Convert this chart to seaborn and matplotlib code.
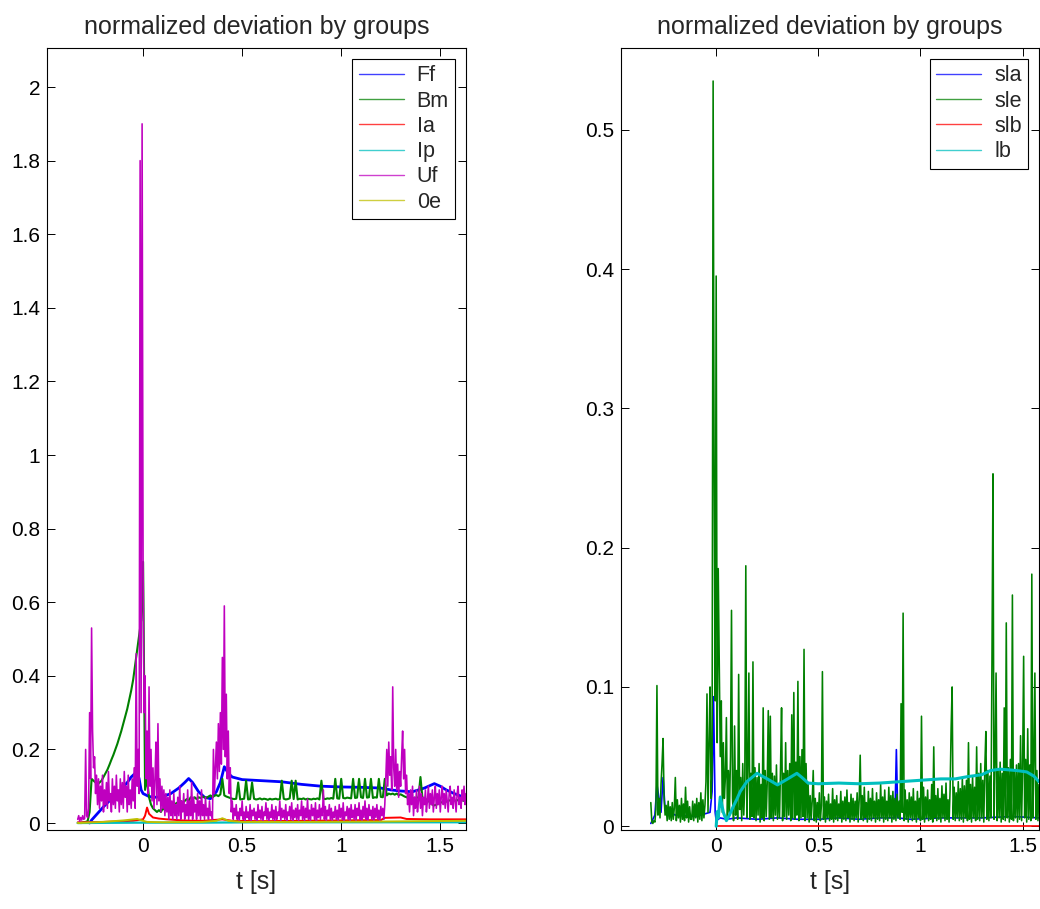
import numpy as np
import matplotlib
matplotlib.use("Agg")
import matplotlib.pyplot as plt
from matplotlib.lines import Line2D
from matplotlib.ticker import FuncFormatter, MultipleLocator
import seaborn as sns

# ---------------------------------------------------------------- data
# Uf: sampled every 5 ms from -0.33 s to 1.63 s (20 samples per row)
t_uf = np.linspace(-0.33, 1.63, 393)
uf = [
    0.01, 0.02, 0.005, 0.015, 0.008, 0.02, 0.01, 0.012, 0.20, 0.02,
    0.015, 0.04, 0.30, 0.12, 0.53, 0.25, 0.15, 0.18, 0.08, 0.13,
    0.05, 0.12, 0.04, 0.10, 0.06, 0.13, 0.03, 0.09, 0.05, 0.11,
    0.04, 0.14, 0.06, 0.08, 0.03, 0.12, 0.05, 0.10, 0.04, 0.13,
    0.06, 0.09, 0.03, 0.12, 0.05, 0.11, 0.04, 0.14, 0.07, 0.10,
    0.03, 0.13, 0.05, 0.09, 0.04, 0.12, 0.06, 0.15, 0.04, 0.46,
    0.10, 0.20, 0.08, 1.80, 0.30, 1.90, 0.70, 0.30, 0.40, 0.12,
    0.25, 0.08, 0.37, 0.10, 0.20, 0.06, 0.15, 0.04, 0.12, 0.22,
    0.05, 0.27, 0.06, 0.12, 0.03, 0.10, 0.04, 0.09, 0.02, 0.08,
    0.03, 0.07, 0.01, 0.09, 0.02, 0.06, 0.01, 0.08, 0.02, 0.05,
    0.01, 0.07, 0.02, 0.10, 0.01, 0.06, 0.03, 0.08, 0.01, 0.05,
    0.02, 0.09, 0.01, 0.06, 0.02, 0.11, 0.01, 0.07, 0.03, 0.05,
    0.01, 0.08, 0.02, 0.06, 0.01, 0.09, 0.02, 0.05, 0.01, 0.07,
    0.02, 0.04, 0.01, 0.06, 0.02, 0.03, 0.01, 0.20, 0.08, 0.15,
    0.22, 0.12, 0.27, 0.14, 0.30, 0.16, 0.45, 0.20, 0.59, 0.18,
    0.35, 0.12, 0.25, 0.08, 0.15, 0.03, 0.06, 0.01, 0.04, 0.02,
    0.05, 0.01, 0.03, 0.005, 0.04, 0.02, 0.06, 0.01, 0.03, 0.005,
    0.045, 0.015, 0.03, 0.01, 0.05, 0.005, 0.035, 0.02, 0.04, 0.01,
    0.03, 0.005, 0.05, 0.015, 0.035, 0.01, 0.045, 0.005, 0.03, 0.02,
    0.055, 0.01, 0.04, 0.005, 0.03, 0.015, 0.05, 0.01, 0.035, 0.005,
    0.045, 0.01, 0.03, 0.02, 0.06, 0.005, 0.04, 0.015, 0.035, 0.01,
    0.05, 0.005, 0.03, 0.02, 0.045, 0.01, 0.055, 0.005, 0.035, 0.015,
    0.04, 0.01, 0.05, 0.005, 0.035, 0.02, 0.06, 0.01, 0.045, 0.005,
    0.04, 0.015, 0.065, 0.01, 0.035, 0.005, 0.05, 0.02, 0.04, 0.01,
    0.055, 0.005, 0.035, 0.015, 0.05, 0.01, 0.04, 0.02, 0.09, 0.01,
    0.045, 0.005, 0.035, 0.02, 0.05, 0.01, 0.04, 0.005, 0.03, 0.015,
    0.045, 0.01, 0.035, 0.005, 0.05, 0.015, 0.04, 0.01, 0.055, 0.005,
    0.03, 0.02, 0.045, 0.01, 0.04, 0.005, 0.05, 0.015, 0.035, 0.01,
    0.05, 0.005, 0.04, 0.02, 0.055, 0.01, 0.035, 0.005, 0.045, 0.015,
    0.06, 0.01, 0.04, 0.005, 0.05, 0.02, 0.035, 0.01, 0.045, 0.005,
    0.04, 0.015, 0.05, 0.01, 0.035, 0.005, 0.045, 0.02, 0.04, 0.01,
    0.05, 0.12, 0.20, 0.10, 0.22, 0.13, 0.18, 0.09, 0.37, 0.15,
    0.10, 0.20, 0.09, 0.16, 0.07, 0.14, 0.10, 0.18, 0.25, 0.12,
    0.20, 0.08, 0.13, 0.05, 0.08, 0.03, 0.09, 0.05, 0.10, 0.02,
    0.07, 0.04, 0.09, 0.03, 0.06, 0.10, 0.04, 0.08, 0.02, 0.07,
    0.05, 0.09, 0.03, 0.06, 0.10, 0.04, 0.08, 0.05, 0.09, 0.03,
    0.07, 0.10, 0.04, 0.08, 0.05, 0.09, 0.03, 0.07, 0.10, 0.05,
    0.08, 0.04, 0.09, 0.06, 0.03, 0.08, 0.10, 0.05, 0.07, 0.04,
    0.09, 0.06, 0.03, 0.08, 0.10, 0.05, 0.07, 0.04, 0.09, 0.06,
    0.10, 0.05, 0.08,
]

# Bm: sampled every 10 ms from -0.33 s to 1.63 s
t_bm = np.linspace(-0.33, 1.63, 197)
bm = [
    0.0, 0.0, 0.0, 0.002, 0.003, 0.005, 0.03, 0.12, 0.115, 0.11,
    0.105, 0.11, 0.115, 0.125, 0.135, 0.145, 0.158, 0.172, 0.185, 0.20,
    0.215, 0.232, 0.25, 0.27, 0.29, 0.31, 0.335, 0.36, 0.39, 0.43,
    0.47, 0.51, 0.55, 0.71, 0.09, 0.12, 0.07, 0.05, 0.04, 0.035,
    0.03, 0.035, 0.03, 0.04, 0.035, 0.04, 0.045, 0.04, 0.05, 0.05,
    0.055, 0.05, 0.06, 0.055, 0.06, 0.065, 0.06, 0.07, 0.065, 0.07,
    0.065, 0.07, 0.068, 0.072, 0.07, 0.068, 0.072, 0.075, 0.07, 0.074,
    0.076, 0.073, 0.078, 0.12, 0.075, 0.072, 0.07, 0.068, 0.066, 0.065,
    0.066, 0.11, 0.064, 0.065, 0.066, 0.115, 0.064, 0.065, 0.11, 0.066,
    0.064, 0.065, 0.067, 0.064, 0.066, 0.065, 0.063, 0.066, 0.064, 0.065,
    0.066, 0.064, 0.065, 0.115, 0.066, 0.064, 0.065, 0.067, 0.115, 0.065,
    0.115, 0.064, 0.066, 0.065, 0.067, 0.064, 0.066, 0.065, 0.064, 0.066,
    0.065, 0.067, 0.064, 0.115, 0.066, 0.065, 0.067, 0.066, 0.068, 0.066,
    0.12, 0.067, 0.066, 0.12, 0.068, 0.067, 0.069, 0.068, 0.067, 0.12,
    0.068, 0.069, 0.12, 0.07, 0.068, 0.12, 0.069, 0.07, 0.12, 0.068,
    0.07, 0.069, 0.12, 0.071, 0.07, 0.12, 0.075, 0.08, 0.078, 0.08,
    0.077, 0.08, 0.076, 0.078, 0.075, 0.072, 0.07, 0.068, 0.07, 0.067,
    0.069, 0.068, 0.07, 0.125, 0.068, 0.066, 0.064, 0.06, 0.055, 0.05,
    0.048, 0.05, 0.052, 0.055, 0.057, 0.06, 0.058, 0.06, 0.062, 0.06,
    0.062, 0.06, 0.063, 0.061, 0.062, 0.06, 0.061,
]

ff_t = [-0.27, -0.26, -0.24, -0.22, -0.20, -0.18, -0.15, -0.12, -0.10, -0.08,
        -0.06, -0.04, -0.03, -0.02, -0.01, 0.0, 0.03, 0.06, 0.10, 0.14,
        0.18, 0.21, 0.23, 0.25, 0.28, 0.31, 0.34, 0.37, 0.39, 0.41,
        0.43, 0.45, 0.50, 0.60, 0.70, 0.80, 0.90, 1.00, 1.10, 1.20,
        1.25, 1.30, 1.36, 1.42, 1.47, 1.50, 1.53, 1.57, 1.60, 1.63]
ff = [0.0, 0.008, 0.02, 0.032, 0.044, 0.055, 0.07, 0.085, 0.098, 0.11,
      0.125, 0.135, 0.14, 0.12, 0.09, 0.08, 0.072, 0.07, 0.072, 0.08,
      0.095, 0.11, 0.121, 0.11, 0.085, 0.07, 0.066, 0.085, 0.11, 0.153,
      0.135, 0.125, 0.118, 0.115, 0.112, 0.105, 0.10, 0.098, 0.097, 0.095,
      0.09, 0.087, 0.085, 0.095, 0.107, 0.10, 0.09, 0.08, 0.074, 0.071]

ia_t = [-0.33, -0.2, -0.05, 0.0, 0.01, 0.02, 0.03, 0.05, 0.08, 0.12,
        0.2, 0.3, 0.4, 0.45, 0.6, 0.8, 1.0, 1.2, 1.22, 1.3,
        1.33, 1.45, 1.63]
ia = [0.002, 0.003, 0.006, 0.01, 0.02, 0.042, 0.025, 0.015, 0.012, 0.01,
      0.007, 0.006, 0.01, 0.006, 0.005, 0.006, 0.007, 0.008, 0.014, 0.015,
      0.011, 0.01, 0.01]

ip_t = [-0.33, 0.0, 0.3, 0.6, 1.0, 1.3, 1.63]
ip = [0.0, 0.001, 0.001, 0.002, 0.002, 0.002, 0.002]

oe_t = [-0.33, -0.2, -0.1, -0.03, 0.0, 0.02, 0.1, 0.3, 0.37, 0.40,
        0.43, 0.5, 0.8, 1.2, 1.4, 1.63]
oe = [0.0, 0.003, 0.007, 0.011, 0.006, 0.003, 0.002, 0.003, 0.006, 0.013,
      0.006, 0.003, 0.003, 0.004, 0.005, 0.006]

# sle: sampled every 5 ms from -0.32 s to 1.58 s (20 samples per row)
t_sle = np.linspace(-0.32, 1.58, 381)
sle = [
    0.017, 0.003, 0.002, 0.004, 0.003, 0.012, 0.101, 0.008, 0.02, 0.006,
    0.03, 0.045, 0.063, 0.02, 0.008, 0.015, 0.004, 0.018, 0.005, 0.014,
    0.004, 0.017, 0.005, 0.013, 0.035, 0.004, 0.019, 0.006, 0.015, 0.003,
    0.02, 0.005, 0.016, 0.004, 0.028, 0.006, 0.018, 0.003, 0.014, 0.005,
    0.005, 0.018, 0.004, 0.016, 0.006, 0.02, 0.003, 0.017, 0.005, 0.024,
    0.004, 0.019, 0.006, 0.015, 0.032, 0.095, 0.01, 0.06, 0.10, 0.02,
    0.04, 0.535, 0.25, 0.09, 0.395, 0.06, 0.185, 0.12, 0.05, 0.09,
    0.01, 0.06, 0.02, 0.035, 0.078, 0.006, 0.04, 0.01, 0.05, 0.155,
    0.02, 0.004, 0.072, 0.008, 0.04, 0.005, 0.109, 0.012, 0.035, 0.004,
    0.045, 0.008, 0.03, 0.187, 0.006, 0.04, 0.11, 0.005, 0.038, 0.007,
    0.118, 0.006, 0.042, 0.004, 0.035, 0.008, 0.045, 0.003, 0.03, 0.006,
    0.085, 0.004, 0.04, 0.007, 0.032, 0.083, 0.005, 0.079, 0.006, 0.038,
    0.004, 0.036, 0.008, 0.044, 0.005, 0.03, 0.006, 0.042, 0.085, 0.004,
    0.038, 0.007, 0.06, 0.005, 0.04, 0.008, 0.045, 0.004, 0.08, 0.006,
    0.096, 0.005, 0.046, 0.008, 0.104, 0.004, 0.05, 0.006, 0.055, 0.007,
    0.127, 0.004, 0.045, 0.006, 0.03, 0.003, 0.022, 0.005, 0.018, 0.04,
    0.004, 0.02, 0.003, 0.017, 0.006, 0.024, 0.004, 0.015, 0.111, 0.005,
    0.021, 0.003, 0.018, 0.006, 0.023, 0.004, 0.016, 0.005, 0.027, 0.003,
    0.019, 0.005, 0.022, 0.004, 0.016, 0.006, 0.025, 0.003, 0.018, 0.005,
    0.021, 0.004, 0.026, 0.006, 0.017, 0.003, 0.023, 0.005, 0.02, 0.004,
    0.018, 0.006, 0.024, 0.003, 0.019, 0.051, 0.005, 0.022, 0.004, 0.028,
    0.006, 0.017, 0.003, 0.025, 0.005, 0.02, 0.004, 0.027, 0.006, 0.018,
    0.003, 0.024, 0.005, 0.019, 0.004, 0.03, 0.006, 0.021, 0.003, 0.026,
    0.005, 0.018, 0.004, 0.028, 0.006, 0.022, 0.003, 0.025, 0.005, 0.02,
    0.004, 0.023, 0.006, 0.018, 0.005, 0.088, 0.01, 0.153, 0.004, 0.026,
    0.005, 0.019, 0.003, 0.024, 0.006, 0.021, 0.004, 0.027, 0.005, 0.018,
    0.003, 0.025, 0.006, 0.02, 0.004, 0.079, 0.005, 0.028, 0.003, 0.021,
    0.006, 0.026, 0.004, 0.019, 0.005, 0.03, 0.003, 0.057, 0.006, 0.022,
    0.004, 0.027, 0.005, 0.02, 0.003, 0.029, 0.006, 0.023, 0.004, 0.031,
    0.005, 0.019, 0.003, 0.026, 0.07, 0.10, 0.005, 0.028, 0.004, 0.024,
    0.006, 0.032, 0.004, 0.027, 0.005, 0.035, 0.003, 0.029, 0.006, 0.033,
    0.004, 0.06, 0.005, 0.03, 0.003, 0.036, 0.006, 0.028, 0.004, 0.057,
    0.005, 0.038, 0.004, 0.045, 0.006, 0.033, 0.003, 0.042, 0.068, 0.005,
    0.04, 0.004, 0.036, 0.006, 0.12, 0.253, 0.005, 0.044, 0.11, 0.004,
    0.04, 0.006, 0.046, 0.003, 0.038, 0.005, 0.085, 0.004, 0.146, 0.006,
    0.042, 0.003, 0.048, 0.005, 0.166, 0.004, 0.04, 0.006, 0.044, 0.003,
    0.045, 0.005, 0.065, 0.004, 0.042, 0.122, 0.006, 0.048, 0.003, 0.07,
    0.005, 0.044, 0.004, 0.181, 0.006, 0.046, 0.11, 0.005, 0.04, 0.004,
    0.03,
]

sla_t = [-0.32, -0.31, -0.30, -0.29, -0.27, -0.26, -0.25, -0.2, -0.1, -0.03,
         -0.02, -0.013, -0.005, 0.0, 0.02, 0.05, 0.1, 0.2, 0.3, 0.4,
         0.5, 0.6, 0.7, 0.8, 0.875, 0.882, 0.889, 0.95, 1.1, 1.3,
         1.45, 1.58]
sla = [0.002, 0.005, 0.008, 0.03, 0.01, 0.035, 0.012, 0.008, 0.007, 0.01,
       0.025, 0.093, 0.01, 0.004, 0.006, 0.005, 0.006, 0.005, 0.006, 0.005,
       0.005, 0.006, 0.005, 0.006, 0.006, 0.055, 0.006, 0.005, 0.006, 0.006,
       0.007, 0.006]

slb_t = [0.0, 0.5, 1.0, 1.58]
slb = [0.0004, 0.0004, 0.0004, 0.0004]

lb_t = [0.0, 0.005, 0.01, 0.02, 0.035, 0.05, 0.065, 0.083, 0.1, 0.118,
        0.15, 0.175, 0.2, 0.225, 0.25, 0.3, 0.35, 0.395, 0.42, 0.45,
        0.5, 0.6, 0.7, 0.8, 0.9, 1.0, 1.1, 1.17, 1.23, 1.3,
        1.343, 1.39, 1.47, 1.52, 1.555, 1.58]
lb = [0.0, 0.0105, 0.006, 0.021, 0.01, 0.004, 0.008, 0.014, 0.019, 0.025,
      0.032, 0.035, 0.038, 0.036, 0.034, 0.0297, 0.034, 0.038, 0.035, 0.031,
      0.0305, 0.031, 0.0305, 0.031, 0.032, 0.033, 0.034, 0.034, 0.0356, 0.037,
      0.040, 0.041, 0.040, 0.039, 0.036, 0.032]

# ---------------------------------------------------------------- style
BLUE = (0.0, 0.0, 1.0)
GREEN = (0.0, 0.5, 0.0)
RED = (1.0, 0.0, 0.0)
CYAN = (0.0, 0.75, 0.75)
MAGENTA = (0.75, 0.0, 0.75)
YELLOW = (0.75, 0.75, 0.0)

sns.set_theme(style="white")
plt.rcParams["font.family"] = ["Liberation Sans", "DejaVu Sans"]
plt.rcParams["axes.edgecolor"] = "black"
plt.rcParams["axes.linewidth"] = 0.8

FS = 15          # tick labels
FS_LEG = 15.5    # legend entries
FS_TXT = 18      # title and axis label

fig = plt.figure(figsize=(10.40, 9.09), dpi=100)
ax_l = fig.add_axes([0.0452, 0.0869, 0.4029, 0.8603])
ax_r = fig.add_axes([0.5971, 0.0869, 0.4019, 0.8603])


def draw(ax, series):
    handles = []
    for t, v, color, name, lw in series:
        sns.lineplot(x=np.asarray(t, float), y=np.asarray(v, float), ax=ax,
                     color=color, linewidth=lw, estimator=None, sort=False,
                     legend=False)
        handles.append(Line2D([], [], color=color, linewidth=1.0, alpha=0.75,
                              label=name))
    return handles


h_l = draw(ax_l, [
    (ff_t, ff, BLUE, "Ff", 2.0),
    (t_bm, bm, GREEN, "Bm", 1.5),
    (ia_t, ia, RED, "Ia", 1.4),
    (ip_t, ip, CYAN, "Ip", 1.6),
    (t_uf, uf, MAGENTA, "Uf", 1.15),
    (oe_t, oe, YELLOW, "0e", 1.4),
])
h_r = draw(ax_r, [
    (sla_t, sla, BLUE, "sla", 1.2),
    (t_sle, sle, GREEN, "sle", 1.15),
    (slb_t, slb, RED, "slb", 1.2),
    (lb_t, lb, CYAN, "lb", 2.2),
])

fmt = FuncFormatter(lambda v, pos: "%g" % round(v, 6))

for ax, xlim, ylim, ystep, handles in (
        (ax_l, (-0.485, 1.63), (-0.019, 2.106), 0.2, h_l),
        (ax_r, (-0.466, 1.58), (-0.0027, 0.5587), 0.1, h_r)):
    ax.set_xlim(*xlim)
    ax.set_ylim(*ylim)
    ax.xaxis.set_major_locator(MultipleLocator(0.5))
    ax.yaxis.set_major_locator(MultipleLocator(ystep))
    ax.xaxis.set_major_formatter(fmt)
    ax.yaxis.set_major_formatter(fmt)
    ax.tick_params(direction="in", length=6, width=0.7, top=True, right=True,
                   bottom=True, left=True, labelsize=FS, pad=5, colors="black")
    for s in ax.spines.values():
        s.set_visible(True)
        s.set_color("black")
        s.set_linewidth(0.8)
    ax.set_title("normalized deviation by groups", fontsize=FS_TXT, pad=10)
    ax.set_xlabel("t [s]", fontsize=FS_TXT, labelpad=10)
    ax.set_ylabel("")
    leg = ax.legend(handles=handles, loc="upper right", fontsize=FS_LEG,
                    frameon=True, fancybox=False, framealpha=1,
                    edgecolor="black", labelspacing=0.2, handlelength=2.1,
                    handletextpad=0.6, borderpad=0.3, borderaxespad=0.5)
    leg.get_frame().set_linewidth(0.8)

fig.savefig("out.png", dpi=100)
